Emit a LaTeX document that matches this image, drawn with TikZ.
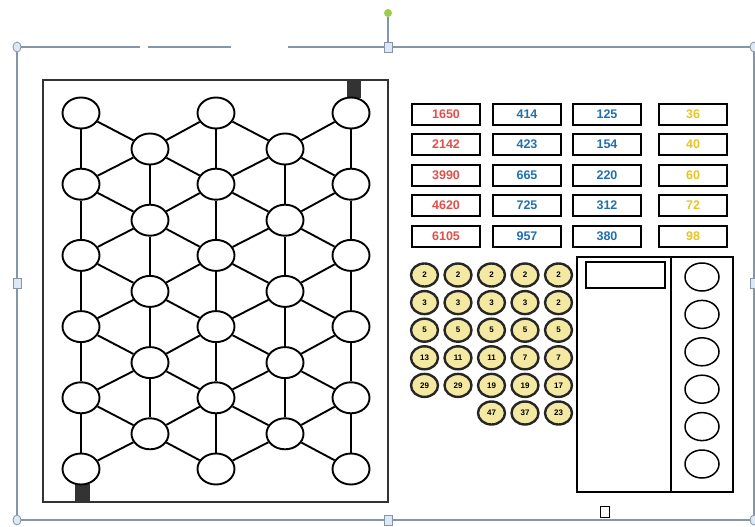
\documentclass[tikz,border=0pt]{standalone}
\usepackage{fontspec}
\setsansfont{Liberation Sans}
\usepackage{tikz}
\usetikzlibrary{positioning,shapes.geometric}

\definecolor{cardred}{HTML}{E0504A}
\definecolor{cardblue}{HTML}{1F6FB2}
\definecolor{cardyellow}{HTML}{E8C41E}
\definecolor{tokenfill}{HTML}{F4E9A2}
\definecolor{selline}{HTML}{8596A8}
\definecolor{selfill}{HTML}{DCE8F4}
\definecolor{rotgreen}{HTML}{9ACD4A}

\begin{document}
\begin{tikzpicture}[x=1pt, y=-1pt,
  hole/.style={draw, ellipse, fill=white, line width=1.9pt, minimum width=37pt, minimum height=31pt, inner sep=0pt},
  link/.style={line width=1.9pt},
  card/.style={draw, line width=2pt, minimum width=68pt, minimum height=21pt, inner sep=0pt, font=\sffamily\bfseries\fontsize{12.5}{13}\selectfont},
  token/.style={draw=black!85, ellipse, fill=tokenfill, line width=2.4pt, minimum width=27pt, minimum height=23pt, inner sep=0pt, font=\sffamily\bfseries\fontsize{8}{9}\selectfont},
  slot/.style={draw, ellipse, line width=1.5pt, minimum width=34pt, minimum height=28pt, inner sep=0pt},
  frameline/.style={draw=selline, line width=1.1pt},
  handle/.style={draw=selline, fill=selfill, line width=0.8pt}
]
\useasboundingbox (0,0) rectangle (755,527);

% Selection frame
\draw[frameline] (17,47) -- (140,47) (148,47) -- (231,47) (288,47) -- (754,47);
\draw[frameline] (17,47) -- (17,520) -- (754,520) -- (754,47);
\draw[frameline] (388,47) -- (388,17);
\fill[rotgreen] (388,13) circle (4);
\foreach \x/\y in {17/47,754/47,17/520,754/520}
  \draw[handle] (\x,\y) ellipse (4 and 5);
\foreach \x/\y in {388/47,388/520,17/283,754/283}
  \draw[handle] (\x-4,\y-5) rectangle (\x+4,\y+5);

% Board
\draw[line width=2.8pt, black!80] (43,80) rectangle (388,502);
\fill[black!80] (347,80) rectangle (361,98);
\fill[black!80] (75,484) rectangle (90,502);

\foreach \c/\x in {1/81,2/216,3/351}
  \foreach \r in {1,...,6}
    \node[hole] (a\c\r) at (\x,{113+71.2*(\r-1)}) {};
\foreach \c/\x in {1/150,2/285}
  \foreach \r in {1,...,5}
    \node[hole] (b\c\r) at (\x,{149+71.2*(\r-1)}) {};

\foreach \c in {1,2,3}
  \foreach \r [count=\s from 2] in {1,...,5}
    \draw[link] (a\c\r) -- (a\c\s);
\foreach \c in {1,2}
  \foreach \r [count=\s from 2] in {1,...,4}
    \draw[link] (b\c\r) -- (b\c\s);
\foreach \c [count=\d from 2] in {1,2}
  \foreach \r [count=\s from 2] in {1,...,5} {
    \draw[link] (b\c\r) -- (a\c\r);
    \draw[link] (b\c\r) -- (a\c\s);
    \draw[link] (b\c\r) -- (a\d\r);
    \draw[link] (b\c\r) -- (a\d\s);
  }

% Number cards
\foreach \t [count=\r] in {1650,2142,3990,4620,6105}
  \node[card, text=cardred] (p\r) at (446,{114+30.5*(\r-1)}) {\t};
\foreach \t [count=\r] in {414,423,665,725,957}
  \node[card, text=cardblue] (q\r) at (527,{114+30.5*(\r-1)}) {\t};
\foreach \t [count=\r] in {125,154,220,312,380}
  \node[card, text=cardblue] (u\r) at (607,{114+30.5*(\r-1)}) {\t};
\foreach \t [count=\r] in {36,40,60,72,98}
  \node[card, text=cardyellow] (w\r) at (693,{114+30.5*(\r-1)}) {\t};

% Prime tokens
\foreach \row [count=\r] in {{2,2,2,2,2},{3,3,3,3,2},{5,5,5,5,5},{13,11,11,7,7},{29,29,19,19,17}}
  \foreach \t [count=\c] in \row
    \node[token] (t\r\c) at ({391+33.5*\c},{275+27.6*(\r-1)}) {\t};
\foreach \t [count=\c from 3] in {47,37,23}
  \node[token] (t6\c) at ({391+33.5*\c},413) {\t};

% Answer panel
\draw[line width=1.8pt] (577,257) rectangle (733,492);
\draw[line width=1.8pt] (671,257) -- (671,492);
\draw[line width=1.8pt] (586,262) rectangle (665,288);
\foreach \r in {1,...,6}
  \node[slot] (s\r) at (702,{277+37.4*(\r-1)}) {};
\draw[line width=0.8pt] (600,506) rectangle (609,517);

\end{tikzpicture}
\end{document}
